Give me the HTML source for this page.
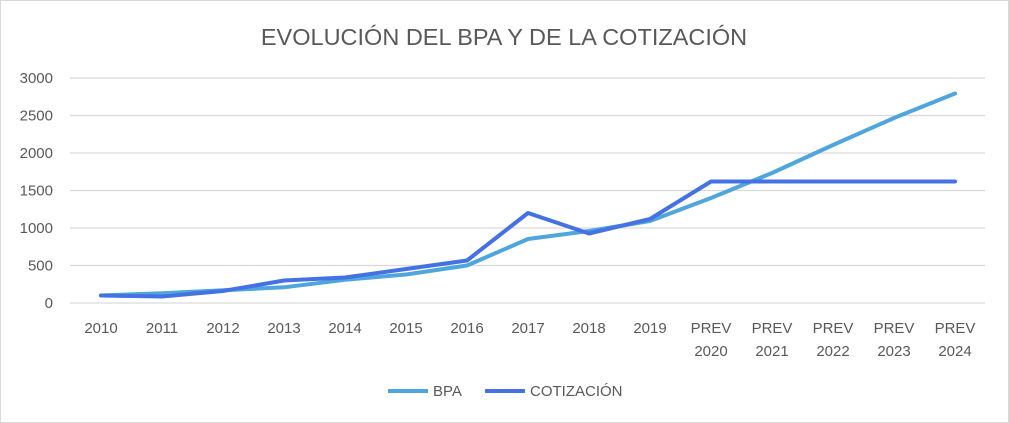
<!DOCTYPE html>
<html><head><meta charset="utf-8"><style>
body{margin:0;background:#fff}
svg{display:block;font-family:"Liberation Sans",sans-serif}
</style></head><body>
<svg width="1009" height="423" viewBox="0 0 1009 423">
<rect x="0.5" y="0.5" width="1008" height="422" fill="#fff" stroke="#d9d9d9"/>
<text x="504" y="45" text-anchor="middle" font-size="23.5" fill="#595959">EVOLUCIÓN  DEL BPA Y DE LA COTIZACIÓN</text>
<g stroke="#d9d9d9" stroke-width="1.3">
<line x1="70" x2="985" y1="78" y2="78"/><line x1="70" x2="985" y1="115.5" y2="115.5"/>
<line x1="70" x2="985" y1="153" y2="153"/><line x1="70" x2="985" y1="190.5" y2="190.5"/>
<line x1="70" x2="985" y1="228" y2="228"/><line x1="70" x2="985" y1="265.5" y2="265.5"/>
<line x1="70" x2="985" y1="303" y2="303"/>
</g>
<g font-size="15" fill="#595959" text-anchor="end">
<text x="53" y="83">3000</text><text x="53" y="120.5">2500</text><text x="53" y="158">2000</text>
<text x="53" y="195.5">1500</text><text x="53" y="233">1000</text><text x="53" y="270.5">500</text><text x="53" y="308">0</text>
</g>
<g font-size="15" fill="#595959" text-anchor="middle">
<text x="101" y="333">2010</text><text x="162" y="333">2011</text><text x="223" y="333">2012</text>
<text x="284" y="333">2013</text><text x="345" y="333">2014</text><text x="406" y="333">2015</text>
<text x="467" y="333">2016</text><text x="528" y="333">2017</text><text x="589" y="333">2018</text>
<text x="650" y="333">2019</text>
<text x="711" y="333">PREV</text><text x="711" y="356">2020</text>
<text x="772" y="333">PREV</text><text x="772" y="356">2021</text>
<text x="833" y="333">PREV</text><text x="833" y="356">2022</text>
<text x="894" y="333">PREV</text><text x="894" y="356">2023</text>
<text x="955" y="333">PREV</text><text x="955" y="356">2024</text>
</g>
<polyline fill="none" stroke="#4ea6dc" stroke-width="4" stroke-linejoin="round" stroke-linecap="round"
points="101,295.5 162,293.3 223,290.3 284,287.3 345,279.8 406,274.5 467,265.5 528,239 589,231 650,221 711,198 772,173 833,145 894,118 955,93.5"/>
<polyline fill="none" stroke="#4472e4" stroke-width="4" stroke-linejoin="round" stroke-linecap="round"
points="101,295.5 162,296.5 223,291 284,280.5 345,277.5 406,269 467,260.5 528,213 589,233.5 650,219 711,181.5 772,181.5 833,181.5 894,181.5 955,181.5"/>
<line x1="388" x2="428" y1="391" y2="391" stroke="#4ea6dc" stroke-width="4"/>
<text x="433" y="396" font-size="15" fill="#595959">BPA</text>
<line x1="485" x2="525" y1="391" y2="391" stroke="#4472e4" stroke-width="4"/>
<text x="530" y="396" font-size="15" fill="#595959">COTIZACIÓN</text>
</svg>
</body></html>
